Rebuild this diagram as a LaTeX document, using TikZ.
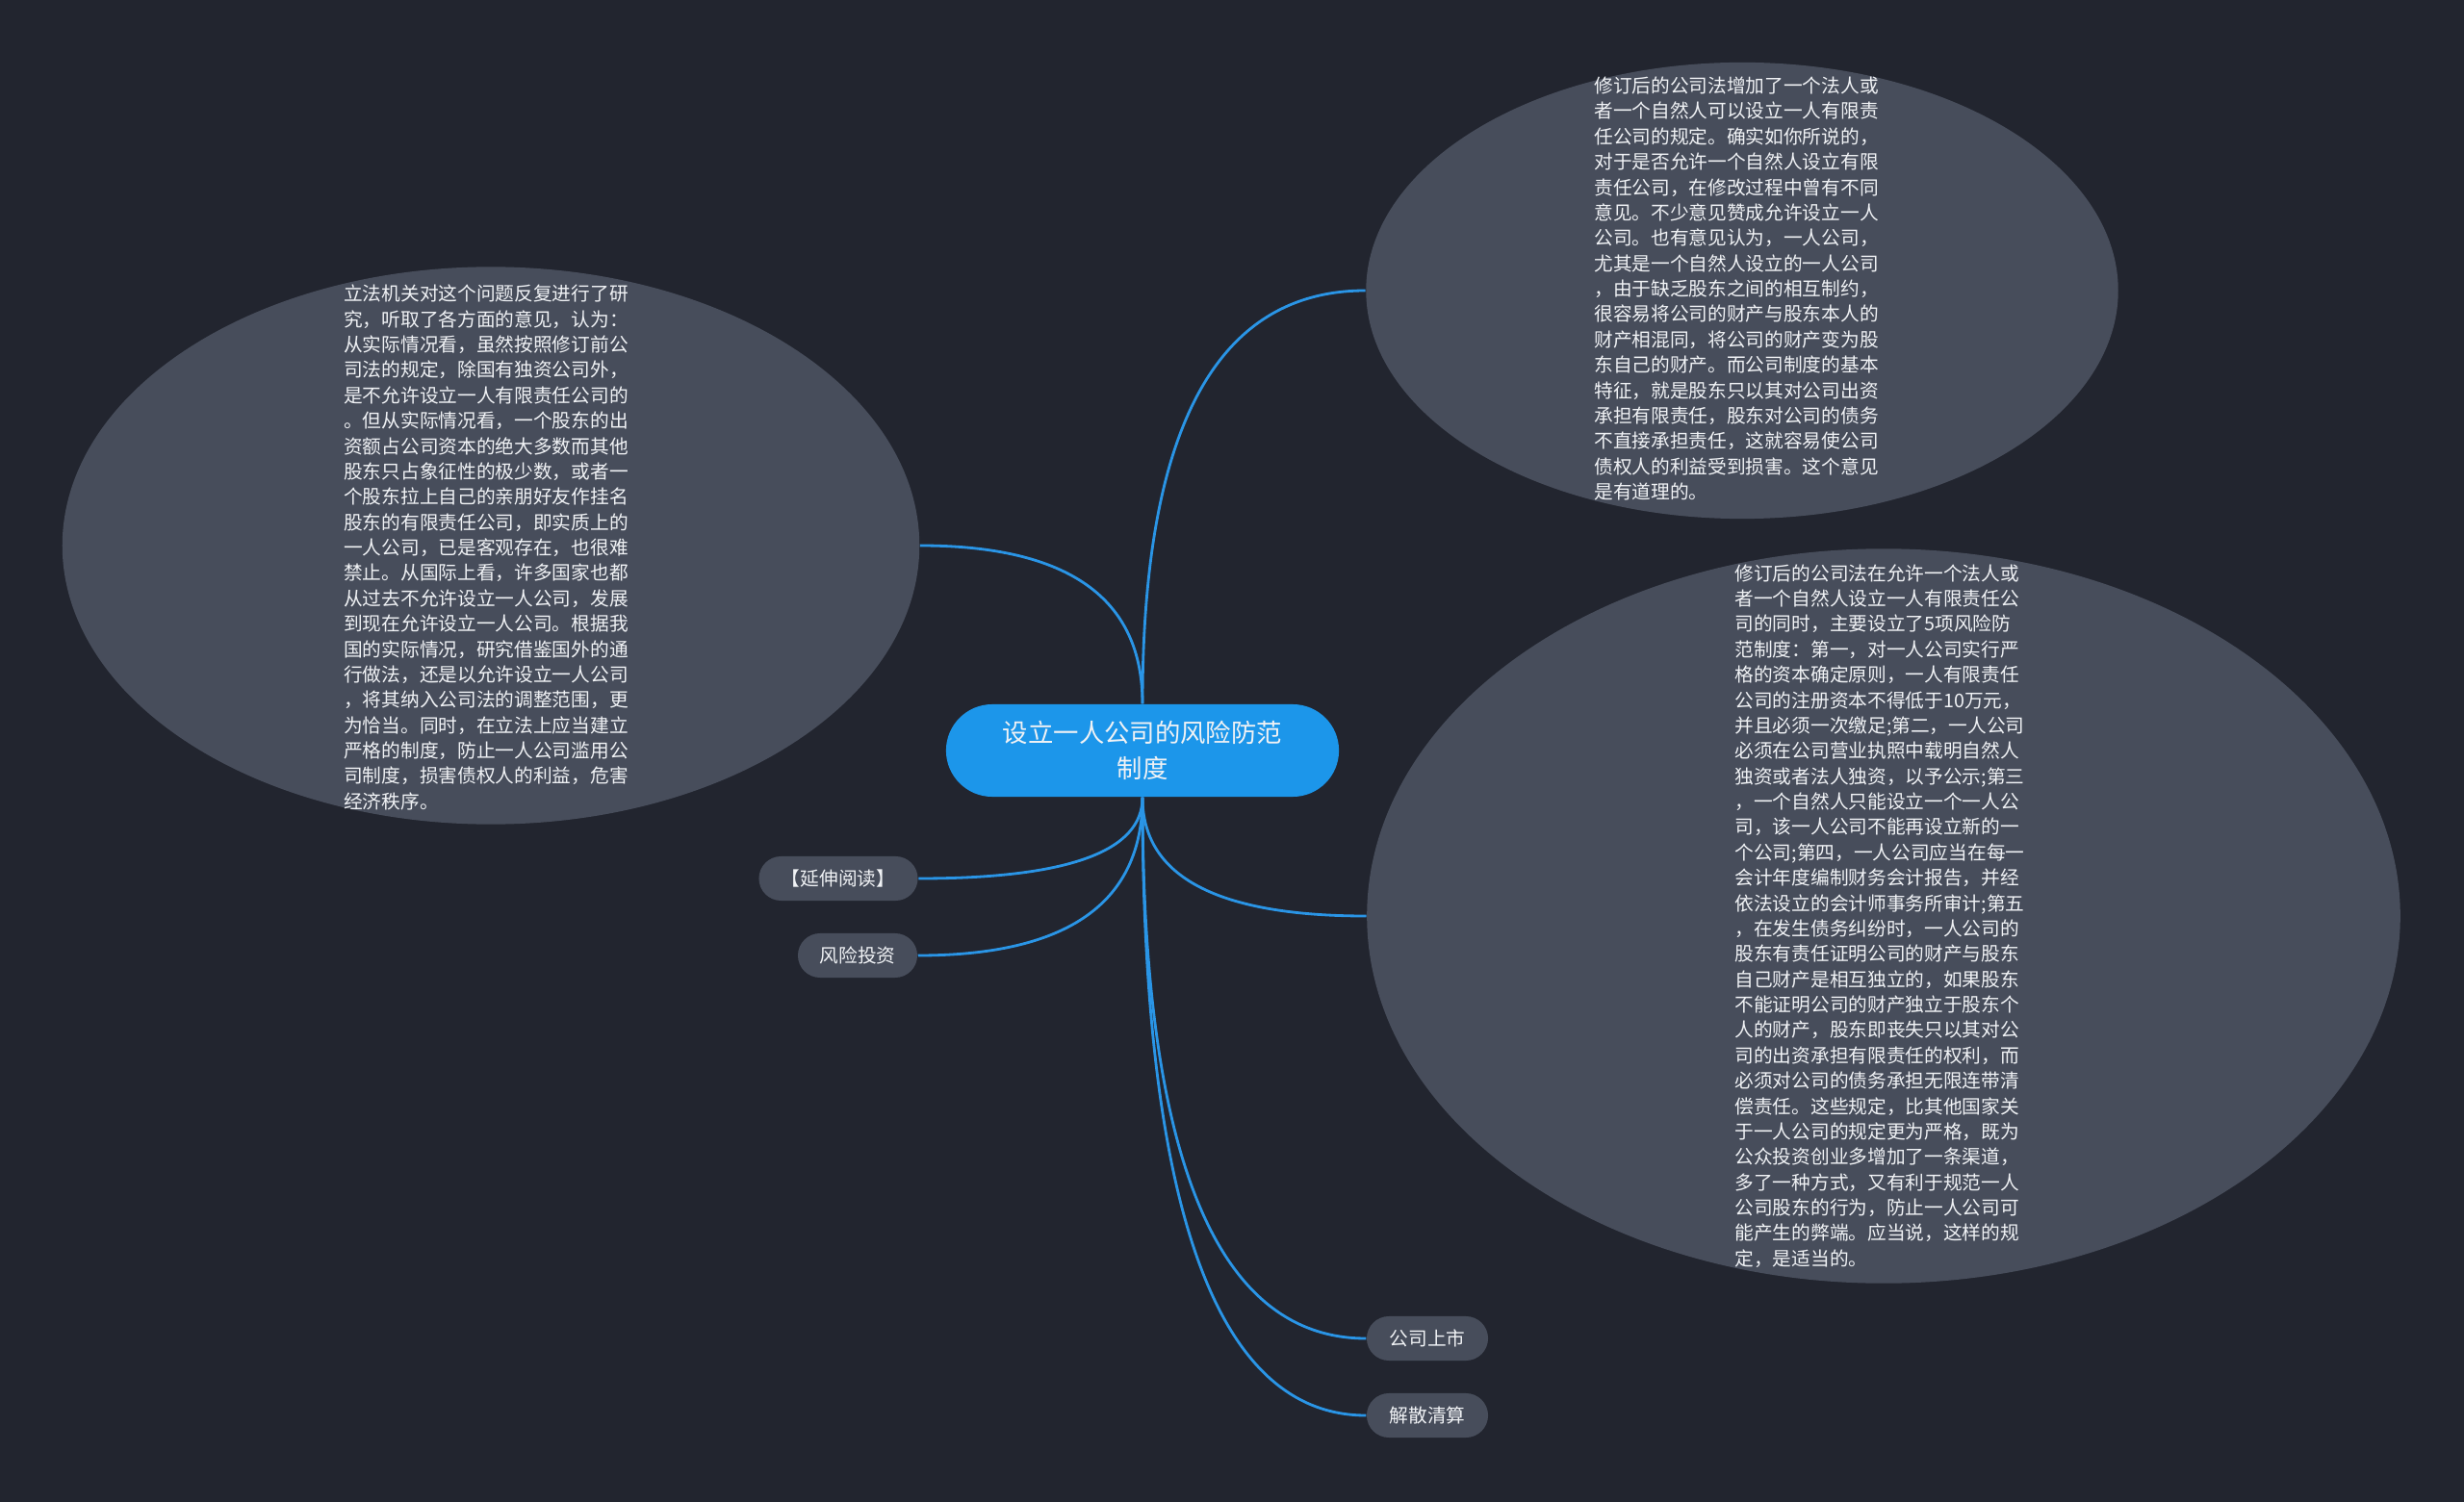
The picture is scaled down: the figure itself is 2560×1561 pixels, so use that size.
\documentclass[tikz,border=0pt]{standalone}
\usepackage{fontspec}
\setmainfont{Noto Sans CJK SC}
\usetikzlibrary{shapes.geometric, calc}
\definecolor{bgcol}{HTML}{22252F}
\definecolor{nodecol}{HTML}{474D5B}
\definecolor{rootcol}{HTML}{1C96EA}
\definecolor{linkcol}{HTML}{2A95E6}
\definecolor{textcol}{HTML}{F0F2F5}

\begin{document}
\begin{tikzpicture}[x=0.01cm, y=-0.01cm]
    %mind map
\tikzset{
    bubble/.style={ellipse, fill=nodecol, inner sep=0pt},
    bubbletext/.style={align=left, text=textcol, inner sep=0pt, font=\fontsize{5.6pt}{7.5pt}\selectfont},
    topic/.style={fill=nodecol, text=textcol, minimum height=0.46cm, rounded corners=0.23cm, inner sep=0pt, font=\fontsize{5.6pt}{7.5pt}\selectfont},
    link/.style={linkcol, line width=0.8pt,
        to path={.. controls ($(\tikztostart)!0.667!(\tikztostart |- \tikztotarget)$) and ($(\tikztotarget)!0.667!(\tikztostart |- \tikztotarget)$) .. (\tikztotarget)}}
}
    \fill[bgcol] (0,0) rectangle (2560,1561);
    \useasboundingbox (0,0) rectangle (2560,1561);

    \node[minimum width=4.08cm, minimum height=0.96cm, rounded corners=0.48cm, fill=rootcol, text=textcol, align=center, inner sep=0pt, font=\fontsize{7.5pt}{10.5pt}\selectfont](Root) at (1187,780) {设立一人公司的风险防范\\制度};

    \node[bubble, minimum width=8.9cm, minimum height=5.79cm](Legis) at (510,567) {};
    \node[bubbletext](LegisText) at (505,569) {立法机关对这个问题反复进行了研\\究，听取了各方面的意见，认为：\\从实际情况看，虽然按照修订前公\\司法的规定，除国有独资公司外，\\是不允许设立一人有限责任公司的\\。但从实际情况看，一个股东的出\\资额占公司资本的绝大多数而其他\\股东只占象征性的极少数，或者一\\个股东拉上自己的亲朋好友作挂名\\股东的有限责任公司，即实质上的\\一人公司，已是客观存在，也很难\\禁止。从国际上看，许多国家也都\\从过去不允许设立一人公司，发展\\到现在允许设立一人公司。根据我\\国的实际情况，研究借鉴国外的通\\行做法，还是以允许设立一人公司\\，将其纳入公司法的调整范围，更\\为恰当。同时，在立法上应当建立\\严格的制度，防止一人公司滥用公\\司制度，损害债权人的利益，危害\\经济秩序。};

    \node[bubble, minimum width=7.81cm, minimum height=4.74cm](Revised) at (1810,302) {};
    \node[bubbletext](RevisedText) at (1804,300) {修订后的公司法增加了一个法人或\\者一个自然人可以设立一人有限责\\任公司的规定。确实如你所说的，\\对于是否允许一个自然人设立有限\\责任公司，在修改过程中曾有不同\\意见。不少意见赞成允许设立一人\\公司。也有意见认为，一人公司，\\尤其是一个自然人设立的一人公司\\，由于缺乏股东之间的相互制约，\\很容易将公司的财产与股东本人的\\财产相混同，将公司的财产变为股\\东自己的财产。而公司制度的基本\\特征，就是股东只以其对公司出资\\承担有限责任，股东对公司的债务\\不直接承担责任，这就容易使公司\\债权人的利益受到损害。这个意见\\是有道理的。};

    \node[bubble, minimum width=10.73cm, minimum height=7.63cm](Rules) at (1957,952) {};
    \node[bubbletext](RulesText) at (1953,952) {修订后的公司法在允许一个法人或\\者一个自然人设立一人有限责任公\\司的同时，主要设立了5项风险防\\范制度：第一，对一人公司实行严\\格的资本确定原则，一人有限责任\\公司的注册资本不得低于10万元，\\并且必须一次缴足;第二，一人公司\\必须在公司营业执照中载明自然人\\独资或者法人独资，以予公示;第三\\，一个自然人只能设立一个一人公\\司，该一人公司不能再设立新的一\\个公司;第四，一人公司应当在每一\\会计年度编制财务会计报告，并经\\依法设立的会计师事务所审计;第五\\，在发生债务纠纷时，一人公司的\\股东有责任证明公司的财产与股东\\自己财产是相互独立的，如果股东\\不能证明公司的财产独立于股东个\\人的财产，股东即丧失只以其对公\\司的出资承担有限责任的权利，而\\必须对公司的债务承担无限连带清\\偿责任。这些规定，比其他国家关\\于一人公司的规定更为严格，既为\\公众投资创业多增加了一条渠道，\\多了一种方式，又有利于规范一人\\公司股东的行为，防止一人公司可\\能产生的弊端。应当说，这样的规\\定，是适当的。};

    \node[topic, minimum width=1.65cm](Reading) at (871,913) {【延伸阅读】};
    \node[topic, minimum width=1.24cm](Venture) at (891,993) {风险投资};
    \node[topic, minimum width=1.26cm](Listing) at (1483,1391) {公司上市};
    \node[topic, minimum width=1.26cm](Dissolve) at (1483,1471) {解散清算};

    \draw[link] (Root.north) to (Legis.east);
    \draw[link] (Root.north) to (Revised.west);
    \draw[link] (Root.south) to (Reading.east);
    \draw[link] (Root.south) to (Venture.east);
    \draw[link] (Root.south) to (Rules.west);
    \draw[link] (Root.south) to (Listing.west);
    \draw[link] (Root.south) to (Dissolve.west);
\end{tikzpicture}
\end{document}
